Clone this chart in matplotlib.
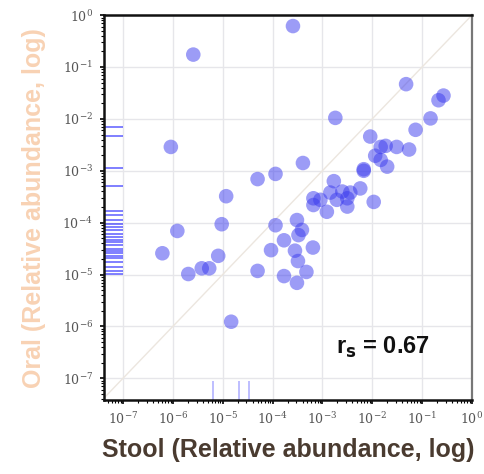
import numpy as np
import matplotlib.pyplot as plt

# log10 relative abundance (stool, oral)
stool_log = [-3.59, -5.59, -6.04, -1.32, -0.57, -0.67, -2.74, -0.83, -1.13, -2.04,
             -1.73, -1.51, -1.26, -1.94, -1.83, -1.70, -3.39, -2.17, -3.94, -4.30,
             -2.77, -2.24, -2.44, -2.84, -4.93, -3.18, -3.04, -2.71, -2.50, -1.97,
             -3.18, -2.50, -2.91, -3.51, -5.02, -3.94, -3.41, -5.91, -3.48, -3.77,
             -3.19, -4.03, -3.55, -6.21, -5.09, -3.49, -5.42, -5.27, -5.69, -4.30,
             -3.32, -3.77, -3.51, -4.83, -1.83, -2.17, -2.60]
oral_log = [-0.21, -0.76, -2.54, -1.33, -1.55, -1.64, -1.98, -1.99, -2.21, -2.34,
            -2.52, -2.54, -2.59, -2.71, -2.79, -2.92, -2.85, -3.00, -3.06, -3.16,
            -3.20, -3.34, -3.42, -3.42, -3.49, -3.53, -3.56, -3.56, -3.53, -3.60,
            -3.66, -3.69, -3.79, -3.95, -4.03, -4.05, -4.14, -4.16, -4.24, -4.34,
            -4.48, -4.53, -4.54, -4.59, -4.64, -4.74, -4.88, -4.88, -4.99, -4.93,
            -4.95, -5.03, -5.16, -5.91, -2.54, -2.97, -3.40]

# taxa found only in oral samples (rug on the y axis)
oral_only_log = [-2.16, -2.33, -2.94, -3.29, -3.77, -3.85, -3.95, -4.02, -4.08, -4.14,
                 -4.21, -4.28, -4.33, -4.37, -4.43, -4.50, -4.55, -4.59, -4.64, -4.69,
                 -4.75, -4.85, -4.93, -4.99]
# taxa found only in stool samples (rug on the x axis)
stool_only_log = [-5.20, -4.68, -4.48]

rs_value = 0.67

stool = 10.0 ** np.array(stool_log)
oral = 10.0 ** np.array(oral_log)
oral_only = 10.0 ** np.array(oral_only_log)
stool_only = 10.0 ** np.array(stool_only_log)

fig = plt.figure(figsize=(4.84, 4.74), dpi=100)
ax = fig.add_axes([0.215, 0.156, 0.760, 0.812])

ax.set_xscale('log')
ax.set_yscale('log')
ax.set_xlim(10 ** -7.38, 1)
ax.set_ylim(10 ** -7.42, 1)

ax.grid(True, which='major', color='#e6e6ea', linewidth=1.0)
ax.set_axisbelow(True)

# identity line
ax.axline((1e-7, 1e-7), (1, 1), color='#ece6df', linewidth=1.0, zorder=1)

ax.scatter(stool, oral, s=110, color='#3a3aee', alpha=0.5, edgecolors='none', zorder=3)

# rugs for taxa present in only one site
ax.plot(np.zeros_like(oral_only), oral_only, transform=ax.get_yaxis_transform(),
        linestyle='none', marker=1, markersize=14, markeredgewidth=1.4,
        color='blue', alpha=0.5, zorder=2)
ax.plot(stool_only, np.zeros_like(stool_only), transform=ax.get_xaxis_transform(),
        linestyle='none', marker=2, markersize=14, markeredgewidth=1.2,
        color='blue', alpha=0.3, zorder=2)

ax.set_xticks(10.0 ** np.arange(-7, 1))
ax.set_yticks(10.0 ** np.arange(-7, 1))
ax.tick_params(which='major', labelsize=9, labelcolor='#555555', length=3, width=1.2, pad=5)
ax.tick_params(which='minor', length=2, width=0.8)
for lab in ax.get_xticklabels() + ax.get_yticklabels():
    lab.set_family('DejaVu Serif')

for side in ['left', 'bottom', 'top']:
    ax.spines[side].set_linewidth(1.8)
    ax.spines[side].set_color('#111111')
ax.spines['right'].set_linewidth(1.6)
ax.spines['right'].set_color('#777777')

ax.text(0.63, 0.12, r'r$_\mathbf{s}$ = %.2f' % rs_value, transform=ax.transAxes,
        fontsize=17, fontweight='bold', family='Liberation Sans', color='#111111')

ax.set_xlabel('Stool (Relative abundance, log)', fontsize=18, fontweight='bold',
              family='Liberation Sans', color='#4a3b30', labelpad=8)
ax.set_ylabel('Oral (Relative abundance, log)', fontsize=18, fontweight='bold',
              family='Liberation Sans', color='#f8d2b4', labelpad=12)

fig.savefig('out.png', dpi=100)
